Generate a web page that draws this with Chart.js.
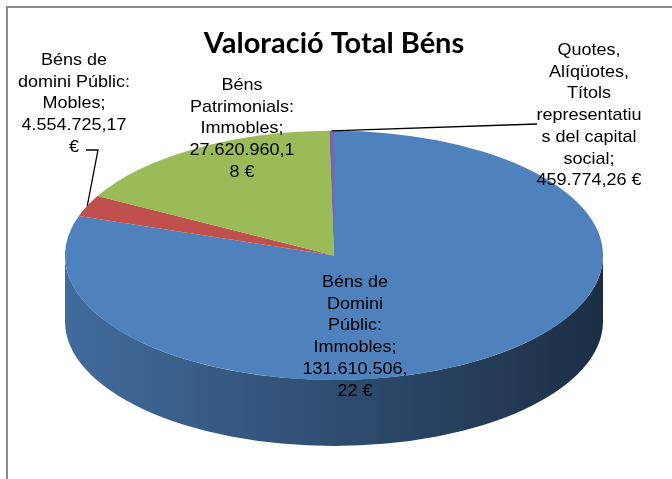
<!DOCTYPE html>
<html><head><meta charset="utf-8">
<script src="https://cdn.jsdelivr.net/npm/chart.js@4/dist/chart.umd.min.js"></script>
<style>html,body{margin:0;padding:0;background:#fff}canvas{display:block}</style>
</head><body>
<canvas id="c" width="672" height="479"></canvas>
<script>
// ---- data ----
const categories = [
  "Béns de Domini Públic: Immobles",
  "Béns de domini Públic: Mobles",
  "Béns Patrimonials: Immobles",
  "Quotes, Alíqüotes, Títols representatius del capital social"
];
const values = [131610506.22, 4554725.17, 27620960.18, 459774.26];
const sliceColors = ["#4F81BD", "#C0504D", "#9BBB59", "#8064A2"];
const chartTitle = "Valoració Total Béns";

// ---- label layout (center x, first baseline y, wrap width) ----
const labelLayout = [
  { x: 355, y: 287, w: 104 },
  { x: 74,  y: 65,  w: 112 },
  { x: 242, y: 90,  w: 104 },
  { x: 589, y: 55,  w: 106 }
];
// leader lines: from label to slice (end computed from the slice)
const leaders = {
  1: [[86, 150], [98, 150]],
  3: [[537, 124]]
};

function fmt(v) {
  const [i, d] = v.toFixed(2).split('.');
  return i.replace(/\B(?=(\d{3})+(?!\d))/g, '.') + ',' + d + ' €';
}
function shade(hex, f) {
  const n = parseInt(hex.slice(1), 16);
  const r = Math.round(((n >> 16) & 255) * f), g = Math.round(((n >> 8) & 255) * f), b = Math.round((n & 255) * f);
  return `rgb(${r},${g},${b})`;
}
function wrap(ctx, text, maxW) {
  const words = text.split(' ');
  const lines = []; let cur = '';
  for (const w of words) {
    const test = cur ? cur + ' ' + w : w;
    if (ctx.measureText(test).width <= maxW) { cur = test; continue; }
    if (cur) { lines.push(cur); cur = ''; }
    if (ctx.measureText(w).width <= maxW) { cur = w; continue; }
    let part = '';
    for (const ch of w) {
      if (ctx.measureText(part + ch).width <= maxW) part += ch;
      else { lines.push(part); part = ch; }
    }
    cur = part;
  }
  if (cur) lines.push(cur);
  return lines;
}

function geom(chart) {
  const a = chart.chartArea;
  const meta = chart.getDatasetMeta(0);
  const arc0 = meta.data[0];
  const cx = arc0.x, cy = arc0.y, R = arc0.outerRadius;
  const sx = (a.right - a.left) / 2 / R, sy = (a.bottom - a.top) / 2 / R;
  return { meta, cx, cy, R, sx, sy };
}

const pie3d = {
  id: 'pie3d',
  beforeDraw(chart) {
    const ctx = chart.ctx;
    ctx.save();
    ctx.strokeStyle = '#8a8a8a';
    ctx.lineWidth = 2;
    ctx.beginPath();
    ctx.moveTo(7, chart.height + 5);
    ctx.lineTo(7, 7);
    ctx.lineTo(chart.width + 5, 7);
    ctx.stroke();
    ctx.restore();
  },
  beforeDatasetsDraw(chart, args, opts) {
    const ctx = chart.ctx;
    const { meta, cx, cy, R, sx, sy } = geom(chart);
    ctx.save();
    ctx.translate(cx, cy); ctx.scale(sx, sy); ctx.translate(-cx, -cy);
    const d = opts.depth / sy;
    meta.data.forEach((arc, i) => {
      const s = Math.max(arc.startAngle, 0), e = Math.min(arc.endAngle, Math.PI);
      if (e <= s) return;
      const col = sliceColors[i];
      const g = ctx.createLinearGradient(cx - R, 0, cx + R, 0);
      g.addColorStop(0, shade(col, 0.83));
      g.addColorStop(0.5, shade(col, 0.6));
      g.addColorStop(1, shade(col, 0.36));
      ctx.beginPath();
      ctx.arc(cx, cy, R, s, e);
      ctx.arc(cx, cy + d, R, e, s, true);
      ctx.closePath();
      ctx.fillStyle = g;
      ctx.fill();
    });
  },
  afterDatasetsDraw(chart) {
    chart.ctx.restore();
  },
  afterDraw(chart, args, opts) {
    const ctx = chart.ctx;
    const { meta, cx, cy, R, sx, sy } = geom(chart);
    ctx.save();
    ctx.font = '17px "Liberation Sans", Arial, sans-serif';
    ctx.fillStyle = '#000';
    ctx.textAlign = 'center';
    ctx.textBaseline = 'alphabetic';
    categories.forEach((name, i) => {
      const L = labelLayout[i];
      const lines = wrap(ctx, name + '; ' + fmt(values[i]), L.w);
      lines.forEach((ln, k) => {
        ctx.save();
        ctx.translate(L.x, L.y + k * opts.lineHeight);
        ctx.scale(opts.stretch, 1);
        ctx.fillText(ln, 0, 0);
        ctx.restore();
      });
    });
    // leader lines
    ctx.strokeStyle = '#000';
    ctx.lineWidth = 1.3;
    Object.keys(leaders).forEach(k => {
      const arc = meta.data[k];
      const mid = (arc.startAngle + arc.endAngle) / 2;
      const ex = cx + R * Math.cos(mid) * sx;
      const ey = cy + R * Math.sin(mid) * sy;
      const pts = leaders[k];
      ctx.beginPath();
      ctx.moveTo(pts[0][0], pts[0][1]);
      for (let j = 1; j < pts.length; j++) ctx.lineTo(pts[j][0], pts[j][1]);
      ctx.lineTo(ex, ey);
      ctx.stroke();
    });
    ctx.restore();
  }
};

new Chart(document.getElementById('c'), {
  type: 'pie',
  data: {
    labels: categories,
    datasets: [{
      data: values,
      backgroundColor: sliceColors,
      borderWidth: 0,
      clip: false
    }]
  },
  options: {
    responsive: false,
    animation: false,
    events: [],
    layout: { padding: { left: 65, right: 69, bottom: 99, top: 0 } },
    plugins: {
      legend: { display: false },
      tooltip: { enabled: false },
      title: {
        display: true,
        text: chartTitle,
        color: '#000',
        font: { family: 'Lato', size: 29, weight: 'bold' },
        padding: { top: 26, bottom: 70 }
      },
      pie3d: { depth: 66, lineHeight: 21.7, stretch: 1.06 }
    }
  },
  plugins: [pie3d]
});
</script>
</body></html>
